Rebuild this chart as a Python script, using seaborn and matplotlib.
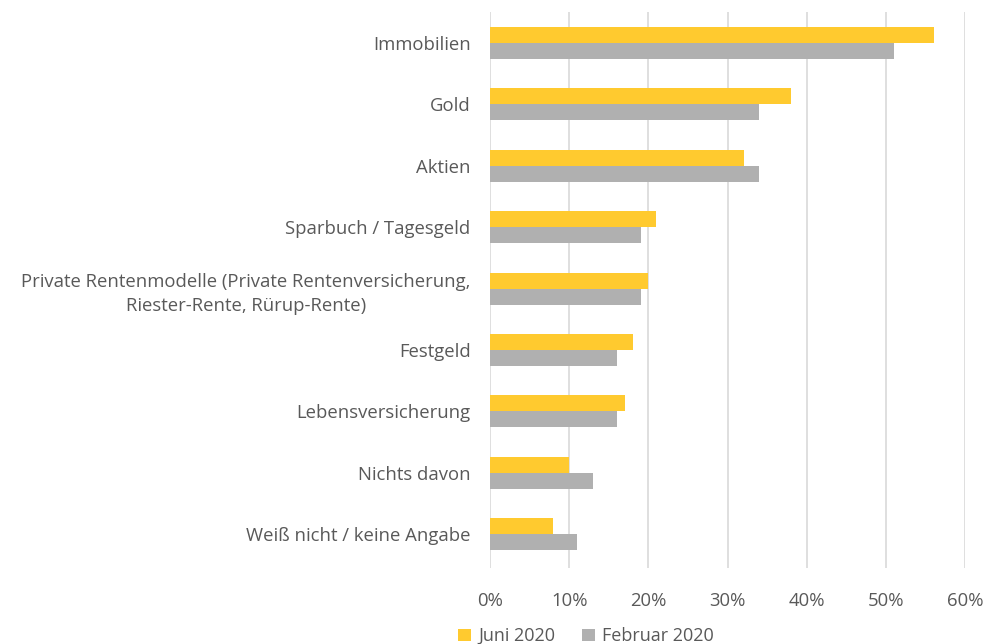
import matplotlib
matplotlib.use("Agg")
import matplotlib.pyplot as plt
import seaborn as sns
import pandas as pd
from matplotlib.ticker import FuncFormatter, MultipleLocator

categories = [
    "Immobilien",
    "Gold",
    "Aktien",
    "Sparbuch / Tagesgeld",
    "Private Rentenmodelle (Private Rentenversicherung,\nRiester-Rente, Rürup-Rente)",
    "Festgeld",
    "Lebensversicherung",
    "Nichts davon",
    "Weiß nicht / keine Angabe",
]
juni_2020 = [56, 38, 32, 21, 20, 18, 17, 10, 8]
februar_2020 = [51, 34, 34, 19, 19, 16, 16, 13, 11]
series_names = ["Juni 2020", "Februar 2020"]

df = pd.DataFrame({
    "Kategorie": categories * 2,
    "Wert": juni_2020 + februar_2020,
    "Serie": [series_names[0]] * len(categories) + [series_names[1]] * len(categories),
})

sns.set_style("white")
plt.rcParams["font.family"] = ["Open Sans", "DejaVu Sans"]
text_color = "#595959"

fig = plt.figure(figsize=(9.85, 6.44), dpi=100)
ax = fig.add_axes([0.4975, 0.118, 0.4825, 0.863])

sns.barplot(
    data=df, y="Kategorie", x="Wert", hue="Serie", orient="h",
    order=categories, hue_order=series_names,
    palette=["#FFCA2F", "#B0B0B0"], width=0.52, gap=0, ax=ax,
    saturation=1, legend=True, linewidth=0,
)

ax.set_xlim(0, 60)
ax.set_ylim(len(categories) - 0.45, -0.5)
ax.xaxis.set_major_locator(MultipleLocator(10))
ax.xaxis.set_major_formatter(FuncFormatter(lambda v, p: f"{int(v)}%"))
ax.grid(axis="x", color="#D9D9D9", linewidth=1.2)
ax.set_axisbelow(True)
for s in ax.spines.values():
    s.set_visible(False)
ax.set_xlabel("")
ax.set_ylabel("")
ax.tick_params(axis="both", length=0, colors=text_color, labelsize=13.3)
ax.tick_params(axis="x", pad=17)
ax.tick_params(axis="y", pad=14)
for lbl in ax.get_yticklabels():
    lbl.set_multialignment("center")
    lbl.set_linespacing(1.45)

handles, labels = ax.get_legend_handles_labels()
ax.legend_.remove()
fig.legend(handles, labels, loc="center", bbox_to_anchor=(0.595, 0.012),
           ncol=2, frameon=False, fontsize=13, labelcolor=text_color,
           handlelength=0.7, handleheight=0.7, columnspacing=1.5, handletextpad=0.4)

fig.savefig("out.png", dpi=100, facecolor="white")
